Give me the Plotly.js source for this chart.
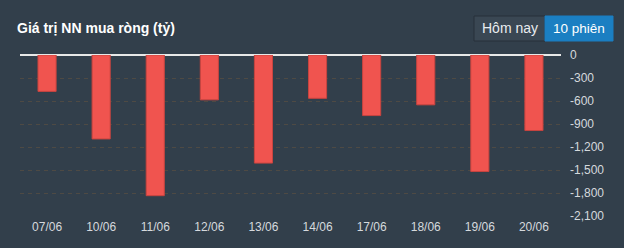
<!DOCTYPE html>
<html>
<head>
<meta charset="utf-8">
<script src="https://cdn.plot.ly/plotly-3.0.1.min.js"></script>
<style>
html,body{margin:0;padding:0;background:#323f4b;}
#chart{width:624px;height:248px;}
</style>
</head>
<body>
<div id="chart"></div>
<script>
const categories = ["07/06","10/06","11/06","12/06","13/06","14/06","17/06","18/06","19/06","20/06"];
const netBuy = [-475,-1095,-1835,-585,-1410,-565,-790,-650,-1520,-985];
const yTickVals = [0,-300,-600,-900,-1200,-1500,-1800,-2100];
const yTickText = ["0","-300","-600","-900","-1,200","-1,500","-1,800","-2,100"];
const titleText = "Giá trị NN mua ròng (tỷ)";
const buttonLabels = ["Hôm nay","10 phiên"];

const W = 624, H = 248;
const M = {l:20, r:63, t:55, b:32};
const pw = W - M.l - M.r, ph = H - M.t - M.b;
const px = x => (x - M.l) / pw;
const py = y => (H - M.b - y) / ph;

const font = "Arial, 'Liberation Sans', sans-serif";

const trace = {
  type: 'bar',
  x: categories,
  y: netBuy,
  width: 0.335,
  marker: {color: '#f0544f', line: {color: '#c8443f', width: 1}},
  hoverinfo: 'x+y'
};

const shapes = [
  {type:'rect', xref:'paper', yref:'paper', x0:px(474), x1:px(545), y0:py(41), y1:py(16),
   fillcolor:'#3a4753', line:{color:'#26313b', width:1}, layer:'above'},
  {type:'rect', xref:'paper', yref:'paper', x0:px(545), x1:px(613), y0:py(41), y1:py(16),
   fillcolor:'#1b7fc2', line:{color:'#1b7fc2', width:1}, layer:'above'}
];

const annotations = [
  {text:'<b>'+titleText+'</b>', xref:'paper', yref:'paper', x:px(15), y:py(28.5),
   xanchor:'left', yanchor:'middle', showarrow:false,
   font:{family:font, size:14, color:'#ffffff'}},
  {text:buttonLabels[0], xref:'paper', yref:'paper', x:px(509.5), y:py(28.5),
   xanchor:'center', yanchor:'middle', showarrow:false,
   font:{family:font, size:14, color:'#e8ecef'}},
  {text:buttonLabels[1], xref:'paper', yref:'paper', x:px(579), y:py(28.5),
   xanchor:'center', yanchor:'middle', showarrow:false,
   font:{family:font, size:13.5, color:'#ffffff'}}
];

const layout = {
  width: W, height: H,
  margin: M,
  paper_bgcolor: '#323f4b',
  plot_bgcolor: '#323f4b',
  showlegend: false,
  bargap: 0.665,
  xaxis: {
    type: 'category',
    showgrid: false, zeroline: false, showline: false,
    ticks: '', ticklabelstandoff: 2,
    tickfont: {family: font, size: 12, color: '#d5d9dd'},
    fixedrange: true
  },
  yaxis: {
    side: 'right',
    range: [-2100, 0],
    tickvals: yTickVals,
    ticktext: yTickText,
    showgrid: true,
    gridcolor: '#4e4a44',
    griddash: '4px,4px',
    gridwidth: 1,
    zeroline: true,
    zerolinecolor: '#e8e8e8',
    zerolinewidth: 1.5,
    showline: false,
    ticks: '',
    ticklabelstandoff: 8,
    tickfont: {family: font, size: 12, color: '#d5d9dd'},
    fixedrange: true
  },
  shapes: shapes,
  annotations: annotations
};

Plotly.newPlot('chart', [trace], layout, {displayModeBar: false, staticPlot: true});
</script>
</body>
</html>
